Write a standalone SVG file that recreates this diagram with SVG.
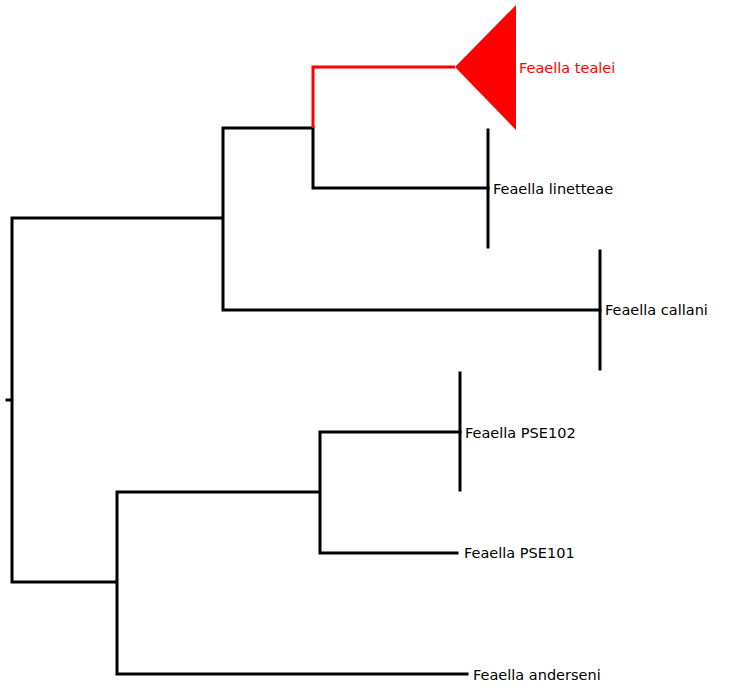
<svg xmlns="http://www.w3.org/2000/svg" width="748" height="700" viewBox="0 0 748 700">
<style>
.e{stroke:#000;stroke-width:3;fill:none;stroke-linecap:square}
.r{stroke:#f00;stroke-width:3;fill:none}
text{font-family:"DejaVu Sans",sans-serif;font-size:14.5px;dominant-baseline:central}
</style>
<rect width="748" height="700" fill="#fff"/>
<g id="connectors">
<path class="e" d="M7 400H12M12 218V582M12 218H223M223 128V310M223 310H600M223 128H313M313 128V188M313 188H488M12 582H117M117 492V674M117 492H320M320 432V553M320 432H460M320 553H457M117 674H467"/>
<path class="r" d="M313 128V67H455"/>
</g>
<g id="tealei"><polygon points="455,67 516,5 516,130" fill="#f00"/><text x="519" y="68" fill="#f00">Feaella tealei</text></g>
<g id="linetteae"><path class="e" d="M488 130V247"/><text x="493" y="189">Feaella linetteae</text></g>
<g id="callani"><path class="e" d="M600 251V369"/><text x="605" y="310">Feaella callani</text></g>
<g id="pse102"><path class="e" d="M460 373V490"/><text x="465" y="433">Feaella PSE102</text></g>
<g id="pse101"><text x="464" y="553">Feaella PSE101</text></g>
<g id="anderseni"><text x="473" y="675">Feaella anderseni</text></g>
</svg>
